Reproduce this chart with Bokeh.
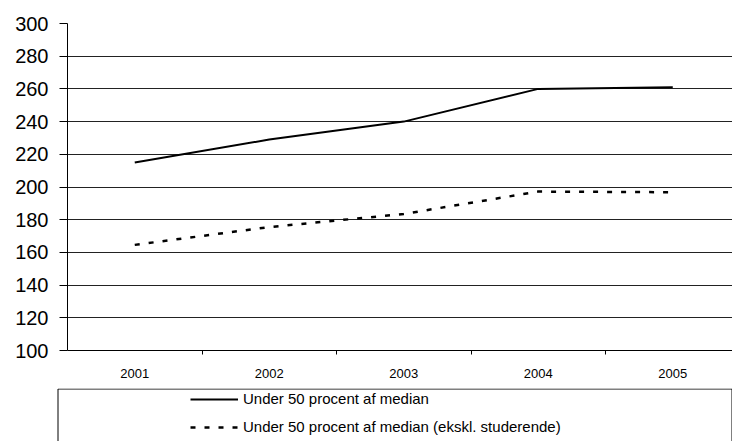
from bokeh.plotting import figure
from bokeh.models import (ColumnDataSource, FixedTicker, Legend, LegendItem,
                          BoxAnnotation, Range1d)
from bokeh.layouts import column
from bokeh.embed import file_html
from bokeh.resources import INLINE

years = ["2001", "2002", "2003", "2004", "2005"]
under50 = [215, 229, 240, 260, 261]
under50_excl = [164.6, 175.5, 183.5, 197.2, 196.8]
y_ticks = [100, 120, 140, 160, 180, 200, 220, 240, 260, 280, 300]
label_a = "Under 50 procent af median"
label_b = "Under 50 procent af median (ekskl. studerende)"

xpos = [i + 1 for i in range(len(years))]
src = ColumnDataSource(dict(x=xpos, a=under50, b=under50_excl))

FONT = "Liberation Sans"
SOLID = dict(line_color="black", line_width=2)
DASHED = dict(line_color="black", line_width=2.5, line_dash="5 9")

p = figure(frame_width=665, frame_height=327, output_backend="svg",
           toolbar_location=None, x_range=Range1d(0.5, 5.444),
           y_range=Range1d(100, 300),
           min_border_left=67, min_border_right=0, min_border_top=23,
           min_border_bottom=38)
p.frame_align = False
p.background_fill_color = "white"
p.border_fill_color = "white"
p.outline_line_color = None

p.line("x", "a", source=src, **SOLID)
p.line("x", "b", source=src, **DASHED)

# y axis
p.yaxis.ticker = FixedTicker(ticks=y_ticks)
p.yaxis.axis_line_color = "black"
p.yaxis.axis_line_width = 1
p.yaxis.major_tick_out = 8
p.yaxis.major_tick_in = 0
p.yaxis.minor_tick_line_color = None
p.yaxis.major_label_text_font = FONT
p.yaxis.major_label_text_font_size = "20px"
p.yaxis.major_label_text_color = "black"
p.yaxis.major_label_standoff = 11

# x axis: labels at category centers, ticks at boundaries
p.xaxis.ticker = FixedTicker(ticks=xpos, minor_ticks=[1.5, 2.5, 3.5, 4.5])
p.xaxis.major_label_overrides = {x: y for x, y in zip(xpos, years)}
p.xaxis.major_tick_out = 0
p.xaxis.major_tick_in = 0
p.xaxis.minor_tick_out = 4
p.xaxis.minor_tick_in = 0
p.xaxis.minor_tick_line_color = "black"
p.xaxis.axis_line_color = "black"
p.xaxis.major_label_text_font = FONT
p.xaxis.major_label_text_font_size = "13px"
p.xaxis.major_label_text_color = "black"
p.xaxis.major_label_standoff = 14

p.xgrid.grid_line_color = None
p.ygrid.grid_line_color = "#222222"
p.ygrid.grid_line_width = 1

# legend panel (second figure below the chart)
p2 = figure(width=732, height=53, output_backend="svg", toolbar_location=None,
            x_range=Range1d(0.5, 5.5), y_range=Range1d(0, 1),
            min_border_left=0, min_border_right=0, min_border_top=0,
            min_border_bottom=0)
p2.frame_align = False
p2.axis.visible = False
p2.grid.visible = False
p2.outline_line_color = None
p2.background_fill_color = "white"
p2.border_fill_color = "white"

# same series, outside the visible range of this panel: used as legend glyphs
q1 = p2.line("x", "a", source=src, **SOLID)
q2 = p2.line("x", "b", source=src, **DASHED)

box = BoxAnnotation(left=57.5, right=731.5, top=0.5, bottom=70,
                    left_units="canvas", right_units="canvas",
                    top_units="canvas", bottom_units="canvas",
                    fill_color=None, fill_alpha=0, line_color="black",
                    line_width=1, line_alpha=1)
p2.add_layout(box)

legend = Legend(items=[LegendItem(label=label_a, renderers=[q1]),
                       LegendItem(label=label_b, renderers=[q2])],
                location=(190, 6), padding=0, margin=0,
                border_line_color=None, background_fill_alpha=0,
                glyph_width=48, glyph_height=16, label_height=16,
                spacing=11, label_standoff=5,
                label_text_font=FONT, label_text_font_size="15px",
                label_text_color="black")
p2.add_layout(legend, "center")

layout = column(p, p2, spacing=0)
open("out.html", "w").write(file_html(layout, INLINE))
